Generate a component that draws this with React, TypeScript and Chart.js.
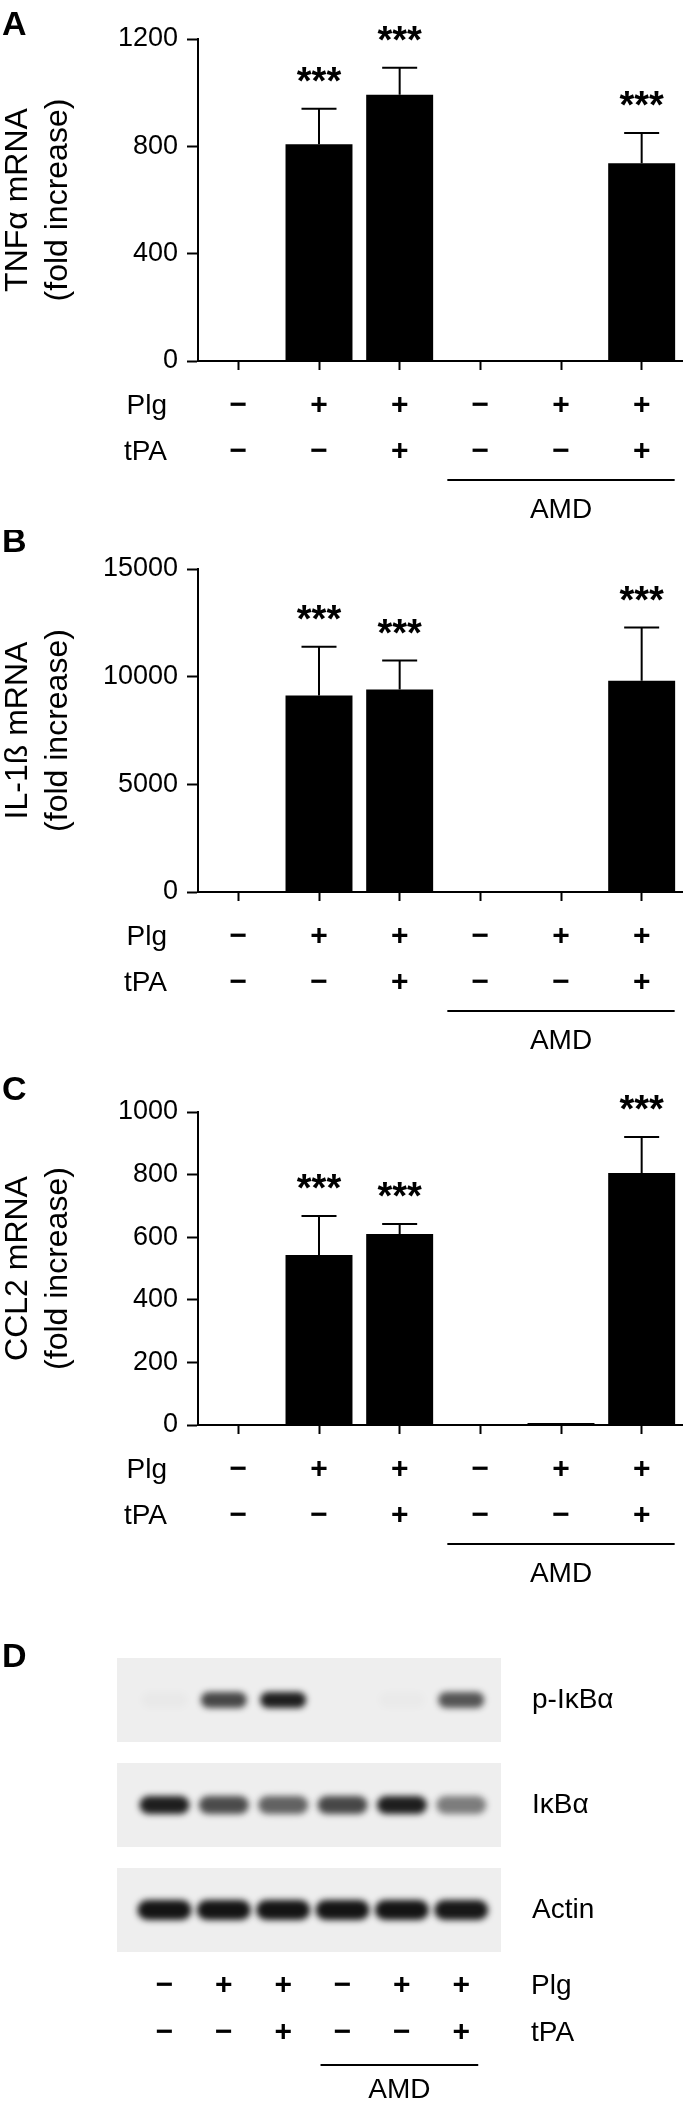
import React, { useEffect, useRef } from 'react';
import { Chart, registerables } from 'chart.js';

Chart.register(...registerables);

const FONT = "'Liberation Sans', Arial, Helvetica, sans-serif";

// ---- data ----
const PLG = ['−', '+', '+', '−', '+', '+'];
const TPA = ['−', '−', '+', '−', '−', '+'];
const GROUPS = PLG.map((p, i) => [p, TPA[i]]);
const SIG = ['', '***', '***', '', '', '***'];

const TNF_MEAN = [1, 808, 992, 1, 1, 737];
const TNF_SD = [0, 132, 101, 0, 0, 113];
const TNF_AXIS = [0, 1200, 400];

const IL1B_MEAN = [1, 9120, 9400, 1, 1, 9810];
const IL1B_SD = [0, 2275, 1345, 0, 0, 2470];
const IL1B_AXIS = [0, 15000, 5000];

const CCL2_MEAN = [1, 543, 610, 1, 6, 805];
const CCL2_SD = [0, 125, 32, 0, 0, 115];
const CCL2_AXIS = [0, 1000, 200];

const LANES = [1, 2, 3, 4, 5, 6];
const PROTEINS = ['p-IκBα', 'IκBα', 'Actin'];
const P_IKBA_BAND = [0.02, 0.74, 0.92, 0, 0.015, 0.68];
const IKBA_BAND = [0.92, 0.72, 0.62, 0.74, 0.92, 0.5];
const ACTIN_BAND = [0.97, 0.97, 0.97, 0.97, 0.97, 0.95];
const BANDS = [P_IKBA_BAND, IKBA_BAND, ACTIN_BAND];

// ---- plugins ----
const barDecor = {
  id: 'barDecor',
  afterDatasetsDraw(chart: any, _args: any, opts: any) {
    const ctx = chart.ctx;
    const meta = chart.getDatasetMeta(0);
    const ys = chart.scales.y;
    const xs = chart.scales.x;
    const a = chart.chartArea;
    const { mean, sd, sig } = opts;
    ctx.save();
    ctx.strokeStyle = '#000';
    ctx.fillStyle = '#000';
    ctx.lineWidth = 2;
    meta.data.forEach((bar: any, i: number) => {
      if (!sd[i]) return;
      const x = bar.x;
      const yb = ys.getPixelForValue(mean[i]);
      const yt = ys.getPixelForValue(mean[i] + sd[i]);
      ctx.beginPath();
      ctx.moveTo(x, yb);
      ctx.lineTo(x, yt);
      ctx.moveTo(x - 17.5, yt);
      ctx.lineTo(x + 17.5, yt);
      ctx.stroke();
      if (sig[i]) {
        ctx.font = `bold 38px ${FONT}`;
        ctx.textAlign = 'center';
        ctx.textBaseline = 'alphabetic';
        ctx.fillText(sig[i], x, yt - 15);
      }
    });
    ctx.font = `28px ${FONT}`;
    ctx.textAlign = 'right';
    ctx.textBaseline = 'middle';
    ctx.fillText('Plg', 167, a.bottom + 45);
    ctx.fillText('tPA', 167, a.bottom + 91);
    const x0 = xs.getPixelForValue(3) - 33;
    const x1 = xs.getPixelForValue(5) + 33;
    ctx.beginPath();
    ctx.moveTo(x0, a.bottom + 119);
    ctx.lineTo(x1, a.bottom + 119);
    ctx.stroke();
    ctx.textAlign = 'center';
    ctx.fillText('AMD', (x0 + x1) / 2, a.bottom + 149);
    ctx.font = `bold 34px ${FONT}`;
    ctx.textAlign = 'left';
    ctx.textBaseline = 'alphabetic';
    ctx.fillText(opts.letter, 2, opts.letterBaseline);
    ctx.restore();
  },
};

const BAND_W = [46, 50, 54];
const BAND_H = [16, 18, 20];

const blotDecor = {
  id: 'blotDecor',
  beforeDatasetsDraw(chart: any) {
    const { ctx, chartArea: a } = chart;
    const y = chart.scales.y;
    ctx.save();
    ctx.fillStyle = '#eeeeee';
    PROTEINS.forEach((_p, r) => {
      const yc = y.getPixelForValue(r);
      ctx.fillRect(a.left, yc - 42, a.right - a.left, 84);
    });
    ctx.restore();
  },
  afterDatasetsDraw(chart: any) {
    const { ctx, chartArea: a } = chart;
    const xs = chart.scales.x;
    chart.data.datasets.forEach((ds: any, r: number) => {
      const meta = chart.getDatasetMeta(r);
      meta.data.forEach((pt: any, i: number) => {
        const v = ds.data[i].v;
        if (v <= 0.01) return;
        const w = BAND_W[r];
        const h = BAND_H[r];
        ctx.save();
        ctx.filter = 'blur(3px)';
        ctx.fillStyle = `rgba(12,12,12,${v})`;
        ctx.beginPath();
        ctx.roundRect(pt.x - w / 2, pt.y - h / 2, w, h, h / 2);
        ctx.fill();
        ctx.restore();
      });
    });
    ctx.save();
    ctx.fillStyle = '#000';
    ctx.strokeStyle = '#000';
    ctx.lineWidth = 2;
    ctx.font = `28px ${FONT}`;
    ctx.textAlign = 'left';
    ctx.textBaseline = 'middle';
    ctx.fillText('Plg', a.right + 30, a.bottom + 23.5);
    ctx.fillText('tPA', a.right + 30, a.bottom + 70.5);
    const x0 = xs.getPixelForValue(4) - 22;
    const x1 = xs.getPixelForValue(6) + 17;
    ctx.beginPath();
    ctx.moveTo(x0, a.bottom + 102.5);
    ctx.lineTo(x1, a.bottom + 102.5);
    ctx.stroke();
    ctx.textAlign = 'center';
    ctx.fillText('AMD', (x0 + x1) / 2, a.bottom + 127.5);
    ctx.font = `bold 34px ${FONT}`;
    ctx.textAlign = 'left';
    ctx.textBaseline = 'alphabetic';
    ctx.fillText('D', 2, 77);
    ctx.restore();
  },
};

type BarProps = {
  top: number;
  height: number;
  plotTop: number;
  plotBottom: number;
  letter: string;
  letterBaseline: number;
  title: string[];
  mean: number[];
  sd: number[];
  axis: number[];
};

function BarPanel(p: BarProps) {
  const ref = useRef<HTMLCanvasElement>(null);
  useEffect(() => {
    if (!ref.current) return;
    const chart = new Chart(ref.current, {
      type: 'bar',
      data: {
        labels: GROUPS,
        datasets: [
          {
            data: p.mean,
            backgroundColor: '#000',
            borderWidth: 0,
            barPercentage: 0.83,
            categoryPercentage: 1,
          },
        ],
      },
      options: {
        animation: false,
        responsive: false,
        maintainAspectRatio: false,
        layout: { padding: { top: p.plotTop, left: 0, right: 3, bottom: 0 } },
        plugins: {
          legend: { display: false },
          tooltip: { enabled: false },
          barDecor: { mean: p.mean, sd: p.sd, sig: SIG, letter: p.letter, letterBaseline: p.letterBaseline },
        } as any,
        scales: {
          x: {
            type: 'category',
            offset: true,
            grid: { offset: false, drawOnChartArea: false, drawTicks: true, tickLength: 9, tickWidth: 2, tickColor: '#000' },
            border: { display: true, color: '#000', width: 2 },
            ticks: {
              color: '#000',
              font: { family: FONT, size: 30, weight: 'bold', lineHeight: '46px' },
              padding: 13,
              maxRotation: 0,
              autoSkip: false,
            },
            afterFit: (s: any) => {
              s.height = p.height - p.plotBottom;
            },
          },
          y: {
            min: p.axis[0],
            max: p.axis[1],
            ticks: {
              stepSize: p.axis[2],
              color: '#000',
              font: { family: FONT, size: 27 },
              padding: 9,
              callback: (v: any) => String(v),
            },
            grid: { drawOnChartArea: false, tickLength: 11, tickWidth: 2, tickColor: '#000' },
            border: { display: true, color: '#000', width: 2 },
            title: {
              display: true,
              text: p.title,
              color: '#000',
              font: { family: FONT, size: 32, lineHeight: '40px' },
              padding: { top: -2, bottom: 0 },
            },
            afterFit: (s: any) => {
              s.width = 198;
            },
          },
        },
      } as any,
      plugins: [barDecor as any],
    });
    return () => chart.destroy();
  }, []);
  return (
    <canvas
      ref={ref}
      width={685}
      height={p.height}
      style={{ position: 'absolute', left: 0, top: p.top, width: 685, height: p.height }}
    />
  );
}

function BlotPanel({ top, height }: { top: number; height: number }) {
  const ref = useRef<HTMLCanvasElement>(null);
  useEffect(() => {
    if (!ref.current) return;
    const chart = new Chart(ref.current, {
      type: 'scatter',
      data: {
        datasets: PROTEINS.map((prot, r) => ({
          data: LANES.map((lane, i) => ({ x: lane, y: prot, v: BANDS[r][i] })),
          pointRadius: 0,
          pointHoverRadius: 0,
        })),
      },
      options: {
        animation: false,
        responsive: false,
        maintainAspectRatio: false,
        layout: { padding: { top: 57.5, left: 117, right: 0, bottom: 0 } },
        plugins: { legend: { display: false }, tooltip: { enabled: false } },
        scales: {
          x: {
            type: 'linear',
            min: 0.2,
            max: 6.67,
            grid: { display: false, drawTicks: false },
            border: { display: false },
            afterBuildTicks: (s: any) => {
              s.ticks = LANES.map((v) => ({ value: v }));
            },
            ticks: {
              color: '#000',
              font: { family: FONT, size: 30, weight: 'bold', lineHeight: '47px' },
              padding: 0,
              maxRotation: 0,
              autoSkip: false,
              callback: (v: any) => [PLG[v - 1], TPA[v - 1]],
            },
            afterFit: (s: any) => {
              s.height = height - 372.5;
            },
          },
          y: {
            type: 'category',
            labels: PROTEINS,
            position: 'right',
            offset: true,
            grid: { display: false, drawTicks: false },
            border: { display: false },
            ticks: { color: '#000', font: { family: FONT, size: 28 }, padding: 31 },
            afterFit: (s: any) => {
              s.width = 184;
            },
          },
        },
      } as any,
      plugins: [blotDecor as any],
    });
    return () => chart.destroy();
  }, []);
  return (
    <canvas
      ref={ref}
      width={685}
      height={height}
      style={{ position: 'absolute', left: 0, top, width: 685, height }}
    />
  );
}

export default function App() {
  return (
    <div style={{ position: 'absolute', left: 0, top: 0, width: 685, height: 2113, background: '#fff' }}>
      <BarPanel
        top={0}
        height={530}
        plotTop={39}
        plotBottom={361}
        letter="A"
        letterBaseline={35}
        title={['TNFα mRNA', '(fold increase)']}
        mean={TNF_MEAN}
        sd={TNF_SD}
        axis={TNF_AXIS}
      />
      <BarPanel
        top={530}
        height={530}
        plotTop={39}
        plotBottom={362}
        letter="B"
        letterBaseline={22}
        title={['IL-1ß mRNA', '(fold increase)']}
        mean={IL1B_MEAN}
        sd={IL1B_SD}
        axis={IL1B_AXIS}
      />
      <BarPanel
        top={1060}
        height={530}
        plotTop={52}
        plotBottom={365}
        letter="C"
        letterBaseline={40}
        title={['CCL2 mRNA', '(fold increase)']}
        mean={CCL2_MEAN}
        sd={CCL2_SD}
        axis={CCL2_AXIS}
      />
      <BlotPanel top={1590} height={523} />
    </div>
  );
}
